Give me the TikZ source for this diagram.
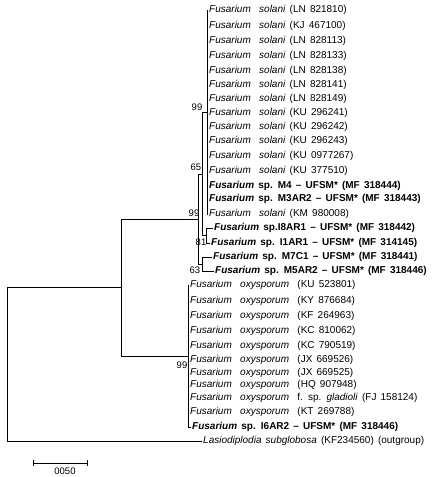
\documentclass[tikz,border=0pt]{standalone}
\usepackage{fontspec}
\setmainfont{Liberation Sans}[WordSpace=1.5]
\usetikzlibrary{positioning}

\tikzset{
  leaf/.style={anchor=west,inner xsep=1pt,inner ysep=0pt,text height=7pt,text depth=2pt,font=\fontsize{10}{12}\selectfont},
  isolate/.style={leaf,font=\fontsize{10}{12}\selectfont\bfseries},
  boot/.style={inner sep=0pt,font=\fontsize{9.5}{11}\selectfont},
  branch/.style={line width=1pt},
}
\newcommand{\fsol}{\textit{Fusarium\ \ solani}}
\newcommand{\foxy}{\textit{Fusarium\ \ oxysporum}}

\begin{document}
\begin{tikzpicture}[x=1pt,y=-1pt]
  \useasboundingbox (0,0) rectangle (444,477);
  % internal nodes of the tree
  \coordinate (root) at (7,364);
  \coordinate (nC) at (121,287.5);
  \coordinate (nB) at (198,219);
  \coordinate (nA) at (202,174);
  \coordinate (nP) at (207,112);
  \coordinate (nQ) at (206,235.5);
  \coordinate (nR) at (202,264);
  \coordinate (nO) at (188,356);
  % solani clade
  \foreach \i/\y/\acc in {1/10/LN 821810,2/26/KJ 467100,3/41/LN 828113,4/56/LN 828133,
      5/71/LN 828138,6/85/LN 828141,7/99/LN 828149,8/113/KU 296241,9/127/KU 296242,
      10/141/KU 296243,11/156/KU 0977267,12/171/KU 377510,13/214/KM 980008}
    \node[leaf] (s\i) at (208,\y) {\fsol\ (\acc)};
  \node[isolate] (m4) at (208,186) {\textit{Fusarium} sp. M4 -- UFSM* (MF 318444)};
  \node[isolate] (m3) at (208,199) {\textit{Fusarium} sp. M3AR2 -- UFSM* (MF 318443)};
  \node[isolate] (i8) at (213,228) {\textit{Fusarium} sp.I8AR1 -- UFSM* (MF 318442)};
  \node[isolate] (i1) at (210,243) {\textit{Fusarium} sp. I1AR1 -- UFSM* (MF 314145)};
  \node[isolate] (m7) at (212,257) {\textit{Fusarium} sp. M7C1 -- UFSM* (MF 318441)};
  \node[isolate] (m5) at (214,271) {\textit{Fusarium} sp. M5AR2 -- UFSM* (MF 318446)};
  % oxysporum clade
  \foreach \i/\y/\acc in {1/285/KU 523801,2/301/KY 876684,3/316/KF 264963,4/331/KC 810062,
      5/346/KC 790519,6/360/JX 669526,7/373/JX 669525,8/385/HQ 907948,10/412/KT 269788}
    \node[leaf] (o\i) at (189,\y) {\foxy\ \ (\acc)};
  \node[leaf] (o9) at (189,398) {\foxy\ \ f. sp. \textit{gladioli} (FJ 158124)};
  \node[isolate] (i6) at (191,427) {\textit{Fusarium} sp. I6AR2 -- UFSM* (MF 318446)};
  % outgroup
  \node[leaf] (lasio) at (202,441) {\textit{Lasiodiplodia subglobosa} (KF234560) (outgroup)};
  % branches
  \draw[branch] (root) |- (nC);
  \draw[branch] (root) |- (lasio.west);
  \draw[branch] (nC) |- (nB);
  \draw[branch] (nC) |- (nO);
  \draw[branch] (nB) |- (nA);
  \draw[branch] (nB) |- (nR);
  \draw[branch] (nA) |- (nP);
  \draw[branch] (nA) |- (nQ);
  \foreach \i in {1,...,13}
    \draw[branch] (nP) |- (s\i.west);
  \draw[branch] (nP) |- (m4.west);
  \draw[branch] (nP) |- (m3.west);
  \draw[branch] (nQ) |- (i8.west);
  \draw[branch] (nQ) |- (i1.west);
  \draw[branch] (nR) |- (m7.west);
  \draw[branch] (nR) |- (m5.west);
  \foreach \i in {1,...,10}
    \draw[branch] (nO) |- (o\i.west);
  \draw[branch] (nO) |- (i6.west);
  % bootstrap values
  \node[boot] (bP) at (197,107) {99};
  \node[boot] (bA) at (196,167) {65};
  \node[boot] (bB) at (194,213) {99};
  \node[boot] (bQ) at (201,242) {81};
  \node[boot] (bR) at (195,270) {63};
  \node[boot] (bO) at (182,365) {99};
  % scale bar
  \coordinate (sbL) at (33,463);
  \coordinate (sbR) at (87,463);
  \draw[branch] (sbL) -- (sbR);
  \draw[branch] ([yshift=-3pt]sbL) -- ([yshift=3pt]sbL);
  \draw[branch] ([yshift=-3pt]sbR) -- ([yshift=3pt]sbR);
  \node[boot] (sbT) at (65,471) {0050};
\end{tikzpicture}
\end{document}
